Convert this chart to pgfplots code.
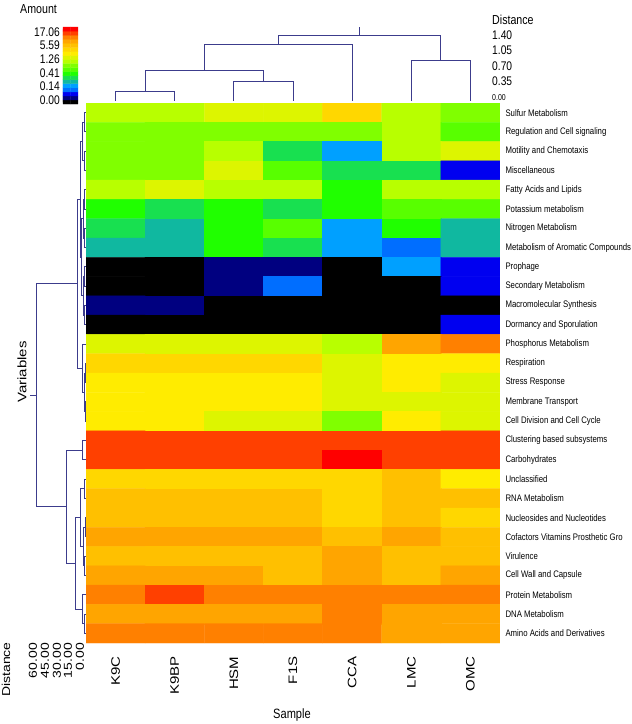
\documentclass[border=0pt]{standalone}
\usepackage{pgfplots}
\pgfplotsset{compat=1.18}
\usepackage{fontspec}
\setmainfont{Liberation Sans}[FakeStretch=0.82]
\newfontfamily\wide{Liberation Sans}
\newcommand{\rot}[1]{\scalebox{1}[0.82]{#1}}
\definecolor{dend}{RGB}{60,60,140}

\pgfplotsset{
  colormap={amount}{
    rgb255=(0,0,0) rgb255=(0,0,128) rgb255=(0,0,240) rgb255=(0,110,255)
    rgb255=(0,160,255) rgb255=(16,184,160) rgb255=(24,224,80) rgb255=(32,255,0)
    rgb255=(88,255,0) rgb255=(128,255,0) rgb255=(184,255,0) rgb255=(221,245,0)
    rgb255=(255,236,0) rgb255=(255,215,0) rgb255=(255,192,0) rgb255=(255,165,0)
    rgb255=(255,128,0) rgb255=(255,64,0) rgb255=(255,0,0)
  },
  bare/.style={scale only axis, hide axis, clip=false},
  dendro/.style={dend, line width=0.9pt, no marks},
}

\begin{document}
\begin{tikzpicture}
\useasboundingbox (0pt,0pt) rectangle (632pt,-724pt);

% heatmap: value = position on the colour scale (0 = 0.00 ... 18 = 17.06)
\begin{axis}[scale only axis, at={(86pt,-103pt)}, anchor=north west,
  width=414pt, height=540pt,
  xmin=-0.5, xmax=6.5, ymin=-0.5, ymax=27.5, y dir=reverse,
  axis line style={draw=none}, major tick length=0pt,
  colormap name=amount, point meta min=0, point meta max=18,
  xtick={0,...,6},
  xticklabels={\rot{K9C},\rot{K9BP},\rot{HSM},\rot{F1S},\rot{CCA},\rot{LMC},\rot{OMC}},
  xticklabel style={font=\wide\fontsize{15}{15}\selectfont, yshift=-10pt, rotate=90, anchor=east},
  ytick={0,...,27}, yticklabel pos=right,
  yticklabels={Sulfur Metabolism, Regulation and Cell signaling, Motility and Chemotaxis,
    Miscellaneous, Fatty Acids and Lipids, Potassium metabolism, Nitrogen Metabolism,
    Metabolism of Aromatic Compounds, Prophage, Secondary Metabolism,
    Macromolecular Synthesis, Dormancy and Sporulation, Phosphorus Metabolism,
    Respiration, Stress Response, Membrane Transport, Cell Division and Cell Cycle,
    Clustering based subsystems, Carbohydrates, Unclassified, RNA Metabolism,
    Nucleosides and Nucleotides, Cofactors Vitamins Prosthetic Gro, Virulence,
    Cell Wall and Capsule, Protein Metabolism, DNA Metabolism, Amino Acids and Derivatives},
  yticklabel style={font=\fontsize{9.5}{10}\selectfont, anchor=west, xshift=2pt},
]
\addplot[matrix plot*, mesh/cols=7, point meta=explicit] coordinates {
(0,0)[10] (1,0)[10] (2,0)[11] (3,0)[11] (4,0)[13] (5,0)[10] (6,0)[9]
(0,1)[9] (1,1)[9] (2,1)[9] (3,1)[9] (4,1)[9] (5,1)[10] (6,1)[8]
(0,2)[9] (1,2)[9] (2,2)[10] (3,2)[6] (4,2)[4] (5,2)[10] (6,2)[11]
(0,3)[9] (1,3)[9] (2,3)[11] (3,3)[8] (4,3)[6] (5,3)[6] (6,3)[2]
(0,4)[10] (1,4)[11] (2,4)[10] (3,4)[10] (4,4)[7] (5,4)[10] (6,4)[10]
(0,5)[7] (1,5)[6] (2,5)[7] (3,5)[6] (4,5)[7] (5,5)[8] (6,5)[8]
(0,6)[6] (1,6)[5] (2,6)[7] (3,6)[8] (4,6)[4] (5,6)[7] (6,6)[5]
(0,7)[5] (1,7)[5] (2,7)[7] (3,7)[6] (4,7)[4] (5,7)[3] (6,7)[5]
(0,8)[0] (1,8)[0] (2,8)[1] (3,8)[1] (4,8)[0] (5,8)[4] (6,8)[2]
(0,9)[0] (1,9)[0] (2,9)[1] (3,9)[3] (4,9)[0] (5,9)[0] (6,9)[2]
(0,10)[1] (1,10)[1] (2,10)[0] (3,10)[0] (4,10)[0] (5,10)[0] (6,10)[0]
(0,11)[0] (1,11)[0] (2,11)[0] (3,11)[0] (4,11)[0] (5,11)[0] (6,11)[2]
(0,12)[11] (1,12)[11] (2,12)[11] (3,12)[11] (4,12)[10] (5,12)[15] (6,12)[16]
(0,13)[13] (1,13)[13] (2,13)[13] (3,13)[13] (4,13)[11] (5,13)[12] (6,13)[12]
(0,14)[12] (1,14)[12] (2,14)[12] (3,14)[12] (4,14)[11] (5,14)[12] (6,14)[11]
(0,15)[12] (1,15)[12] (2,15)[12] (3,15)[12] (4,15)[11] (5,15)[11] (6,15)[11]
(0,16)[12] (1,16)[12] (2,16)[11] (3,16)[11] (4,16)[9] (5,16)[12] (6,16)[11]
(0,17)[17] (1,17)[17] (2,17)[17] (3,17)[17] (4,17)[17] (5,17)[17] (6,17)[17]
(0,18)[17] (1,18)[17] (2,18)[17] (3,18)[17] (4,18)[18] (5,18)[17] (6,18)[17]
(0,19)[13] (1,19)[13] (2,19)[13] (3,19)[13] (4,19)[13] (5,19)[14] (6,19)[12]
(0,20)[14] (1,20)[14] (2,20)[14] (3,20)[14] (4,20)[13] (5,20)[14] (6,20)[14]
(0,21)[14] (1,21)[14] (2,21)[14] (3,21)[14] (4,21)[13] (5,21)[14] (6,21)[13]
(0,22)[15] (1,22)[15] (2,22)[15] (3,22)[15] (4,22)[14] (5,22)[15] (6,22)[14]
(0,23)[14] (1,23)[14] (2,23)[14] (3,23)[14] (4,23)[15] (5,23)[14] (6,23)[14]
(0,24)[15] (1,24)[15] (2,24)[15] (3,24)[14] (4,24)[15] (5,24)[14] (6,24)[15]
(0,25)[16] (1,25)[17] (2,25)[16] (3,25)[16] (4,25)[16] (5,25)[16] (6,25)[16]
(0,26)[15] (1,26)[15] (2,26)[15] (3,26)[15] (4,26)[16] (5,26)[15] (6,26)[15]
(0,27)[16] (1,27)[16] (2,27)[16] (3,27)[16] (4,27)[16] (5,27)[15] (6,27)[15]
};
\end{axis}

% row dendrogram: x = distance, y = row
\begin{axis}[bare, at={(22pt,-103pt)}, anchor=north west, width=64pt, height=540pt,
  xmin=0, xmax=82, x dir=reverse, ymin=-0.5, ymax=27.5, y dir=reverse]
\addplot[dendro] coordinates {(0,0) (1.9,0) (1.9,1) (0,1)};
\addplot[dendro] coordinates {(0,2) (1.9,2) (1.9,3) (0,3)};
\addplot[dendro] coordinates {(1.9,0.5) (4.5,0.5) (4.5,2.5) (1.9,2.5)};
\addplot[dendro] coordinates {(0,4) (1.9,4) (1.9,5) (0,5)};
\addplot[dendro] coordinates {(0,6) (1.9,6) (1.9,7) (0,7)};
\addplot[dendro] coordinates {(1.9,4.5) (3.8,4.5) (3.8,6.5) (1.9,6.5)};
\addplot[dendro] coordinates {(0,8) (1.9,8) (1.9,9) (0,9)};
\addplot[dendro] coordinates {(0,10) (2.6,10) (2.6,11) (0,11)};
\addplot[dendro] coordinates {(1.9,8.5) (3.8,8.5) (3.8,10.5) (2.6,10.5)};
\addplot[dendro] coordinates {(3.8,5.5) (6.4,5.5) (6.4,9.5) (3.8,9.5)};
\addplot[dendro] coordinates {(4.5,1.5) (7.7,1.5) (7.7,7.5) (6.4,7.5)};
\addplot[dendro] coordinates {(0,13) (1.3,13) (1.3,14) (0,14)};
\addplot[dendro] coordinates {(0,15) (1.3,15) (1.3,16) (0,16)};
\addplot[dendro] coordinates {(1.3,13.5) (2.6,13.5) (2.6,15.5) (1.3,15.5)};
\addplot[dendro] coordinates {(0,12) (5.1,12) (5.1,14.5) (2.6,14.5)};
\addplot[dendro] coordinates {(7.7,4.5) (11.5,4.5) (11.5,13.25) (5.1,13.25)};
\addplot[dendro] coordinates {(0,17) (5.1,17) (5.1,18) (0,18)};
\addplot[dendro] coordinates {(0,19) (2.6,19) (2.6,20) (0,20)};
\addplot[dendro] coordinates {(0,21) (1.3,21) (1.3,22) (0,22)};
\addplot[dendro] coordinates {(0,23) (2.6,23) (2.6,24) (0,24)};
\addplot[dendro] coordinates {(1.3,21.5) (3.8,21.5) (3.8,23.5) (2.6,23.5)};
\addplot[dendro] coordinates {(2.6,19.5) (7.7,19.5) (7.7,22.5) (3.8,22.5)};
\addplot[dendro] coordinates {(0,26) (1.9,26) (1.9,27) (0,27)};
\addplot[dendro] coordinates {(0,25) (5.1,25) (5.1,26.5) (1.9,26.5)};
\addplot[dendro] coordinates {(7.7,21) (14.1,21) (14.1,25.75) (5.1,25.75)};
\addplot[dendro] coordinates {(5.1,17.5) (25.6,17.5) (25.6,23.375) (14.1,23.375)};
\addplot[dendro] coordinates {(11.5,8.875) (64,8.875) (64,20.4375) (25.6,20.4375)};
\addplot[dendro] coordinates {(64,14.66) (71.7,14.66)};
\end{axis}

% sample dendrogram: x = column, y = distance
\begin{axis}[bare, at={(86pt,-101pt)}, anchor=south west, width=414pt, height=74pt,
  xmin=-0.5, xmax=6.5, ymin=0, ymax=1.588]
\addplot[dendro] coordinates {(0,0) (0,0.20) (1,0.20) (1,0)};
\addplot[dendro] coordinates {(2,0) (2,0.41) (3,0.41) (3,0)};
\addplot[dendro] coordinates {(0.5,0.20) (0.5,0.65) (2.5,0.65) (2.5,0.41)};
\addplot[dendro] coordinates {(1.5,0.65) (1.5,1.22) (4,1.22) (4,0)};
\addplot[dendro] coordinates {(5,0) (5,0.87) (6,0.87) (6,0)};
\addplot[dendro] coordinates {(2.75,1.22) (2.75,1.40) (5.5,1.40) (5.5,0.87)};
\addplot[dendro] coordinates {(4.125,1.40) (4.125,1.58)};
\end{axis}

% colour scale
\begin{axis}[bare, at={(63pt,-27pt)}, anchor=north west, width=15pt, height=77pt,
  xmin=-0.5, xmax=1.5, ymin=-0.5, ymax=18.5,
  colormap name=amount, point meta min=0, point meta max=18]
\addplot[matrix plot*, mesh/cols=2, point meta=explicit] coordinates {
(0,0)[0] (1,0)[0] (0,1)[1] (1,1)[1] (0,2)[2] (1,2)[2] (0,3)[3] (1,3)[3]
(0,4)[4] (1,4)[4] (0,5)[5] (1,5)[5] (0,6)[6] (1,6)[6] (0,7)[7] (1,7)[7]
(0,8)[8] (1,8)[8] (0,9)[9] (1,9)[9] (0,10)[10] (1,10)[10] (0,11)[11] (1,11)[11]
(0,12)[12] (1,12)[12] (0,13)[13] (1,13)[13] (0,14)[14] (1,14)[14] (0,15)[15] (1,15)[15]
(0,16)[16] (1,16)[16] (0,17)[17] (1,17)[17] (0,18)[18] (1,18)[18]
};
\end{axis}

\begin{scope}[every node/.style={inner sep=0pt}]
\node[anchor=west, font=\fontsize{13}{13}\selectfont] at (20pt,-9pt) {Amount};
\foreach \v/\y in {17.06/32, 5.59/45.6, 1.26/59.2, 0.41/72.8, 0.14/86.4, 0.00/100}
  \node[anchor=east, font=\fontsize{12.5}{12.5}\selectfont] at (60pt,-\y pt) {\v};
\node[anchor=west, font=\fontsize{13}{13}\selectfont] at (492pt,-20pt) {Distance};
\foreach \v/\y in {1.40/35, 1.05/50.5, 0.70/66, 0.35/81.5}
  \node[anchor=west, font=\fontsize{12.5}{12.5}\selectfont] at (492pt,-\y pt) {\v};
\node[anchor=west, font=\fontsize{8.5}{8.5}\selectfont] at (492pt,-98pt) {0.00};
\node[font=\fontsize{13.5}{13.5}\selectfont] at (292pt,-715pt) {Sample};
\node[rotate=90, font=\wide\fontsize{15}{15}\selectfont] at (22pt,-372pt) {\rot{Variables}};
\node[rotate=90, anchor=east, font=\wide\fontsize{14}{14}\selectfont] at (6pt,-642pt) {\rot{Distance}};
\foreach \v/\x in {60.00/33, 45.00/45, 30.00/57, 15.00/68, 0.00/80}
  \node[rotate=90, anchor=east, font=\wide\fontsize{14}{14}\selectfont] at (\x pt,-643pt) {\rot{\v}};
\end{scope}
\end{tikzpicture}
\end{document}
